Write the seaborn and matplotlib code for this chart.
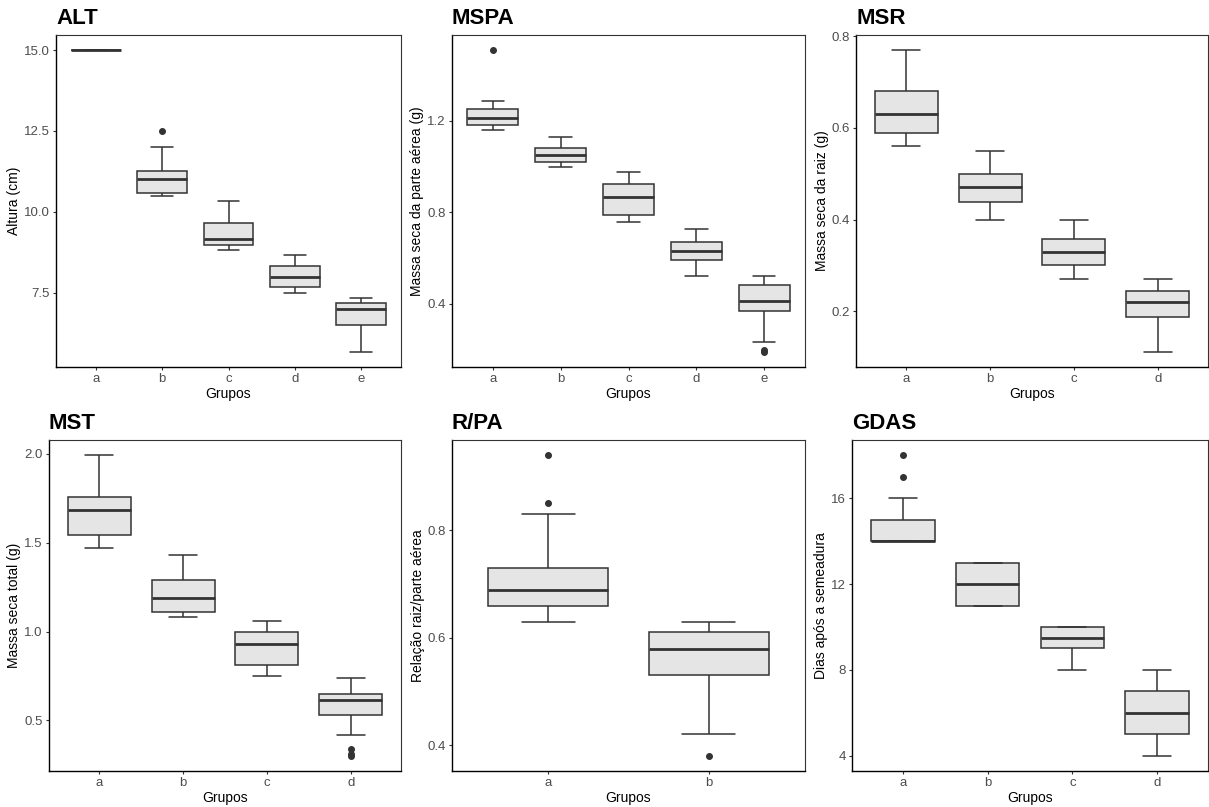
import matplotlib

matplotlib.use("Agg")
import matplotlib.pyplot as plt
import pandas as pd
import seaborn as sns

ALT = {
    "a": [15.0, 15.0, 15.0, 15.0, 15.0, 15.0, 15.0, 15.0, 15.0],
    "b": [10.49, 10.55, 10.59, 10.8, 11.0, 11.1, 11.25, 12.0, 12.5],
    "c": [8.83, 8.9, 8.99, 9.1, 9.17, 9.4, 9.67, 10.0, 10.33],
    "d": [7.5, 7.6, 7.67, 7.8, 8.0, 8.2, 8.33, 8.5, 8.67],
    "e": [5.67, 6.2, 6.5, 6.8, 7.0, 7.1, 7.17, 7.25, 7.33],
}
MSPA = {
    "a": [1.16, 1.17, 1.184, 1.20, 1.212, 1.23, 1.254, 1.289, 1.51],
    "b": [1.00, 1.01, 1.019, 1.04, 1.051, 1.06, 1.079, 1.10, 1.13],
    "c": [0.758, 0.77, 0.786, 0.83, 0.865, 0.89, 0.922, 0.95, 0.978],
    "d": [0.52, 0.56, 0.591, 0.61, 0.63, 0.65, 0.668, 0.70, 0.728],
    "e": [0.188, 0.197, 0.23, 0.369, 0.38, 0.40, 0.409, 0.43, 0.46,
          0.479, 0.49, 0.50, 0.52],
}
MSR = {
    "a": [0.56, 0.575, 0.59, 0.61, 0.63, 0.65, 0.68, 0.72, 0.77],
    "b": [0.40, 0.42, 0.438, 0.455, 0.47, 0.485, 0.50, 0.52, 0.55],
    "c": [0.27, 0.285, 0.30, 0.315, 0.33, 0.345, 0.357, 0.38, 0.40],
    "d": [0.111, 0.15, 0.188, 0.205, 0.22, 0.23, 0.243, 0.255, 0.27],
}
MST = {
    "a": [1.472, 1.50, 1.541, 1.62, 1.683, 1.72, 1.756, 1.85, 1.993],
    "b": [1.08, 1.10, 1.112, 1.15, 1.19, 1.24, 1.289, 1.35, 1.431],
    "c": [0.75, 0.78, 0.81, 0.87, 0.931, 0.96, 1.0, 1.03, 1.06],
    "d": [0.30, 0.31, 0.34, 0.42, 0.53, 0.56, 0.58, 0.60, 0.616,
          0.625, 0.635, 0.64, 0.649, 0.67, 0.69, 0.72, 0.741],
}
RPA = {
    "a": [0.63, 0.64, 0.65, 0.66, 0.67, 0.68, 0.689, 0.70, 0.715,
          0.73, 0.83, 0.85, 0.94],
    "b": [0.38, 0.42, 0.53, 0.555, 0.579, 0.595, 0.61, 0.62, 0.63],
}
GDAS = {
    "a": [14, 14, 14, 14, 14, 14, 14, 14, 15, 15, 16, 17, 18],
    "b": [11, 11, 11, 12, 12, 12, 13, 13, 13],
    "c": [8, 9, 9, 9, 10, 10, 10, 10],
    "d": [4, 5, 5, 6, 6, 6, 7, 7, 8],
}

TITLES = ["ALT", "MSPA", "MSR", "MST", "R/PA", "GDAS"]
YLABELS = [
    "Altura (cm)",
    "Massa seca da parte aérea (g)",
    "Massa seca da raiz (g)",
    "Massa seca total (g)",
    "Relação raiz/parte aérea",
    "Dias após a semeadura",
]
YTICKS = [
    [7.5, 10.0, 12.5, 15.0],
    [0.4, 0.8, 1.2],
    [0.2, 0.4, 0.6, 0.8],
    [0.5, 1.0, 1.5, 2.0],
    [0.4, 0.6, 0.8],
    [4, 8, 12, 16],
]
YTICKLABELS = [
    ["7.5", "10.0", "12.5", "15.0"],
    ["0.4", "0.8", "1.2"],
    ["0.2", "0.4", "0.6", "0.8"],
    ["0.5", "1.0", "1.5", "2.0"],
    ["0.4", "0.6", "0.8"],
    ["4", "8", "12", "16"],
]

# panel boxes in pixels: left, top, right, bottom
PANELS = [
    (56, 35, 401, 367),
    (452, 35, 805, 367),
    (856, 35, 1208, 367),
    (49, 440, 401, 771),
    (452, 440, 805, 771),
    (852, 440, 1208, 771),
]

W, H = 1209, 807

sns.set_style("ticks")
plt.rcParams["font.family"] = ["Liberation Sans", "DejaVu Sans"]

LINE = "#333333"
FILL = "#E5E5E5"

fig = plt.figure(figsize=(W / 100, H / 100), dpi=100)

datasets = [ALT, MSPA, MSR, MST, RPA, GDAS]
for i, groups in enumerate(datasets):
    l, t, r, b = PANELS[i]
    ax = fig.add_axes([l / W, 1 - b / H, (r - l) / W, (b - t) / H])

    rows = [(g, v) for g, vals in groups.items() for v in vals]
    df = pd.DataFrame(rows, columns=["Grupos", "valor"])

    sns.boxplot(
        data=df,
        x="Grupos",
        y="valor",
        ax=ax,
        color=FILL,
        linecolor=LINE,
        saturation=1,
        width=0.75,
        linewidth=1.1,
        capwidths=0.33,
        medianprops={"linewidth": 2.0, "color": LINE},
        flierprops={
            "marker": "o",
            "markersize": 4,
            "markerfacecolor": LINE,
            "markeredgecolor": LINE,
        },
    )

    n = len(groups)
    ax.set_xlim(-0.6, n - 0.4)
    lo, hi = df["valor"].min(), df["valor"].max()
    pad = 0.05 * (hi - lo)
    ax.set_ylim(lo - pad, hi + pad)

    ax.set_yticks(YTICKS[i])
    ax.set_yticklabels(YTICKLABELS[i])

    ax.set_title(TITLES[i], loc="left", fontsize=16, fontweight="bold",
                 color="black", pad=8)
    ax.set_xlabel("Grupos", fontsize=10, color="black", labelpad=1)
    ax.set_ylabel(YLABELS[i], fontsize=10, color="black", labelpad=2)

    ax.tick_params(axis="both", labelsize=9.5, labelcolor="#4D4D4D",
                   color=LINE, length=2.5, width=0.8, pad=2)

    for side in ["left", "bottom"]:
        ax.spines[side].set_color("black")
        ax.spines[side].set_linewidth(1.0)
    for side in ["top", "right"]:
        ax.spines[side].set_visible(True)
        ax.spines[side].set_color(LINE)
        ax.spines[side].set_linewidth(0.8)

fig.savefig("out.png", dpi=100, facecolor="white")
